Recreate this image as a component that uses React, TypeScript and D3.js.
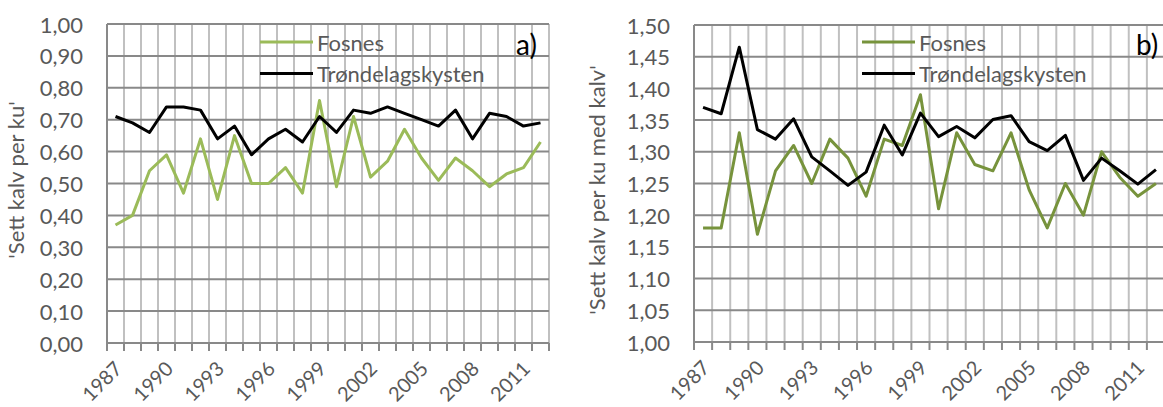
import React from 'react';
import * as d3 from 'd3';

// Years on the x axis (one category per year)
const years = [
  1987, 1988, 1989, 1990, 1991, 1992, 1993, 1994, 1995, 1996, 1997, 1998, 1999,
  2000, 2001, 2002, 2003, 2004, 2005, 2006, 2007, 2008, 2009, 2010, 2011, 2012,
];
const shownYears = [1987, 1990, 1993, 1996, 1999, 2002, 2005, 2008, 2011];

// a) 'Sett kalv per ku'
const fosnesA = [
  0.37, 0.40, 0.54, 0.59, 0.47, 0.64, 0.45, 0.65, 0.50, 0.50, 0.55, 0.47, 0.76,
  0.49, 0.71, 0.52, 0.57, 0.67, 0.58, 0.51, 0.58, 0.54, 0.49, 0.53, 0.55, 0.63,
];
const kystenA = [
  0.71, 0.69, 0.66, 0.74, 0.74, 0.73, 0.64, 0.68, 0.59, 0.64, 0.67, 0.63, 0.71,
  0.66, 0.73, 0.72, 0.74, 0.72, 0.70, 0.68, 0.73, 0.64, 0.72, 0.71, 0.68, 0.69,
];

// b) 'Sett kalv per ku med kalv'
const fosnesB = [
  1.18, 1.18, 1.33, 1.17, 1.27, 1.31, 1.25, 1.32, 1.29, 1.23, 1.32, 1.31, 1.39,
  1.21, 1.33, 1.28, 1.27, 1.33, 1.24, 1.18, 1.25, 1.20, 1.30, 1.26, 1.23, 1.25,
];
const kystenB = [
  1.37, 1.36, 1.465, 1.335, 1.32, 1.352, 1.292, 1.27, 1.247, 1.268, 1.342, 1.295, 1.361,
  1.324, 1.34, 1.322, 1.351, 1.357, 1.316, 1.302, 1.326, 1.255, 1.29, 1.27, 1.249, 1.272,
];

const ticksA = [0, 0.1, 0.2, 0.3, 0.4, 0.5, 0.6, 0.7, 0.8, 0.9, 1.0];
const ticksB = [1.0, 1.05, 1.1, 1.15, 1.2, 1.25, 1.3, 1.35, 1.4, 1.45, 1.5];

const FONT = 'Lato, "Open Sans", sans-serif';
const TEXT = '#595959';
const fmt = (v: number) => d3.format('.2f')(v).replace('.', ',');

interface Series {
  name: string;
  color: string;
  values: number[];
}

interface PanelProps {
  left: number;
  right: number;
  top: number;
  bottom: number;
  domain: [number, number];
  ticks: number[];
  series: Series[];
  yTitle: string;
  titleX: number;
  titleY: number;
  tag: string;
  tagX: number;
  legendX: number;
}

function Panel(p: PanelProps) {
  const x = d3.scaleBand<number>().domain(years).range([p.left, p.right]).padding(0);
  const y = d3.scaleLinear().domain(p.domain).range([p.bottom, p.top]);
  const bw = x.bandwidth();
  const edges = years.map((yr) => x(yr) as number).concat([p.right]);

  const line = d3
    .line<number>()
    .x((_, i) => (x(years[i]) as number) + bw / 2)
    .y((d) => y(d));

  return (
    <g>
      {/* vertical grid */}
      {edges.slice(1).map((e, i) => (
        <line key={'v' + i} x1={e} x2={e} y1={p.top} y2={p.bottom} stroke="#c0c0c0" strokeWidth={2} />
      ))}
      {/* horizontal grid */}
      {p.ticks.map((t) => (
        <line key={'h' + t} x1={p.left} x2={p.right} y1={y(t)} y2={y(t)} stroke="#898989" strokeWidth={2} />
      ))}
      {/* axis line + tick marks */}
      <line x1={p.left} x2={p.left} y1={p.top} y2={p.bottom} stroke="#898989" strokeWidth={2} />
      {edges.map((e, i) => (
        <line key={'t' + i} x1={e} x2={e} y1={p.bottom} y2={p.bottom + 8} stroke="#898989" strokeWidth={2} />
      ))}

      {/* y tick labels */}
      {p.ticks.map((t) => (
        <text
          key={'yl' + t}
          x={p.left - 24}
          y={y(t)}
          textAnchor="end"
          dominantBaseline="central"
          fontSize={22}
          fill={TEXT}
        >
          {fmt(t)}
        </text>
      ))}

      {/* x tick labels */}
      {shownYears.map((yr) => {
        const cx = (x(yr) as number) + bw / 2 + 8;
        const cy = p.bottom + 27;
        return (
          <text
            key={'xl' + yr}
            transform={`translate(${cx},${cy}) rotate(-45)`}
            textAnchor="end"
            fontSize={20}
            fill={TEXT}
          >
            {yr}
          </text>
        );
      })}

      {/* y title */}
      <text
        transform={`translate(${p.titleX},${p.titleY}) rotate(-90)`}
        textAnchor="middle"
        dominantBaseline="central"
        fontSize={22}
        fill={TEXT}
      >
        {p.yTitle}
      </text>

      {/* data lines */}
      {p.series.map((s) => (
        <path key={s.name} d={line(s.values) || ''} fill="none" stroke={s.color} strokeWidth={3} strokeLinejoin="round" />
      ))}

      {/* legend */}
      {p.series.map((s, i) => (
        <g key={'lg' + s.name}>
          <line
            x1={p.legendX}
            x2={p.legendX + 53}
            y1={42 + i * 31.5}
            y2={42 + i * 31.5}
            stroke={s.color}
            strokeWidth={3}
          />
          <text
            x={p.legendX + 57}
            y={42 + i * 31.5}
            dominantBaseline="central"
            fontSize={22}
            fill={TEXT}
          >
            {s.name}
          </text>
        </g>
      ))}

      {/* panel tag */}
      <text x={p.tagX} y={55} fontSize={28} fill="#000">
        {p.tag}
      </text>
    </g>
  );
}

export default function App() {
  return (
    <div style={{ position: 'fixed', left: 0, top: 0, width: 1163, height: 407, background: '#fff' }}>
      <svg width={1163} height={407} style={{ display: 'block', fontFamily: FONT }}>
        <Panel
          left={107}
          right={549}
          top={24}
          bottom={343}
          domain={[0, 1]}
          ticks={ticksA}
          series={[
            { name: 'Fosnes', color: '#9bbb59', values: fosnesA },
            { name: 'Trøndelagskysten', color: '#000000', values: kystenA },
          ]}
          yTitle="'Sett kalv per ku'"
          titleX={15}
          titleY={180}
          tag="a)"
          tagX={516}
          legendX={260}
        />
        <Panel
          left={694}
          right={1165}
          top={25}
          bottom={342}
          domain={[1, 1.5]}
          ticks={ticksB}
          series={[
            { name: 'Fosnes', color: '#77933c', values: fosnesB },
            { name: 'Trøndelagskysten', color: '#000000', values: kystenB },
          ]}
          yTitle="'Sett kalv per ku med kalv'"
          titleX={596}
          titleY={190}
          tag="b)"
          tagX={1136}
          legendX={862}
        />
      </svg>
    </div>
  );
}
